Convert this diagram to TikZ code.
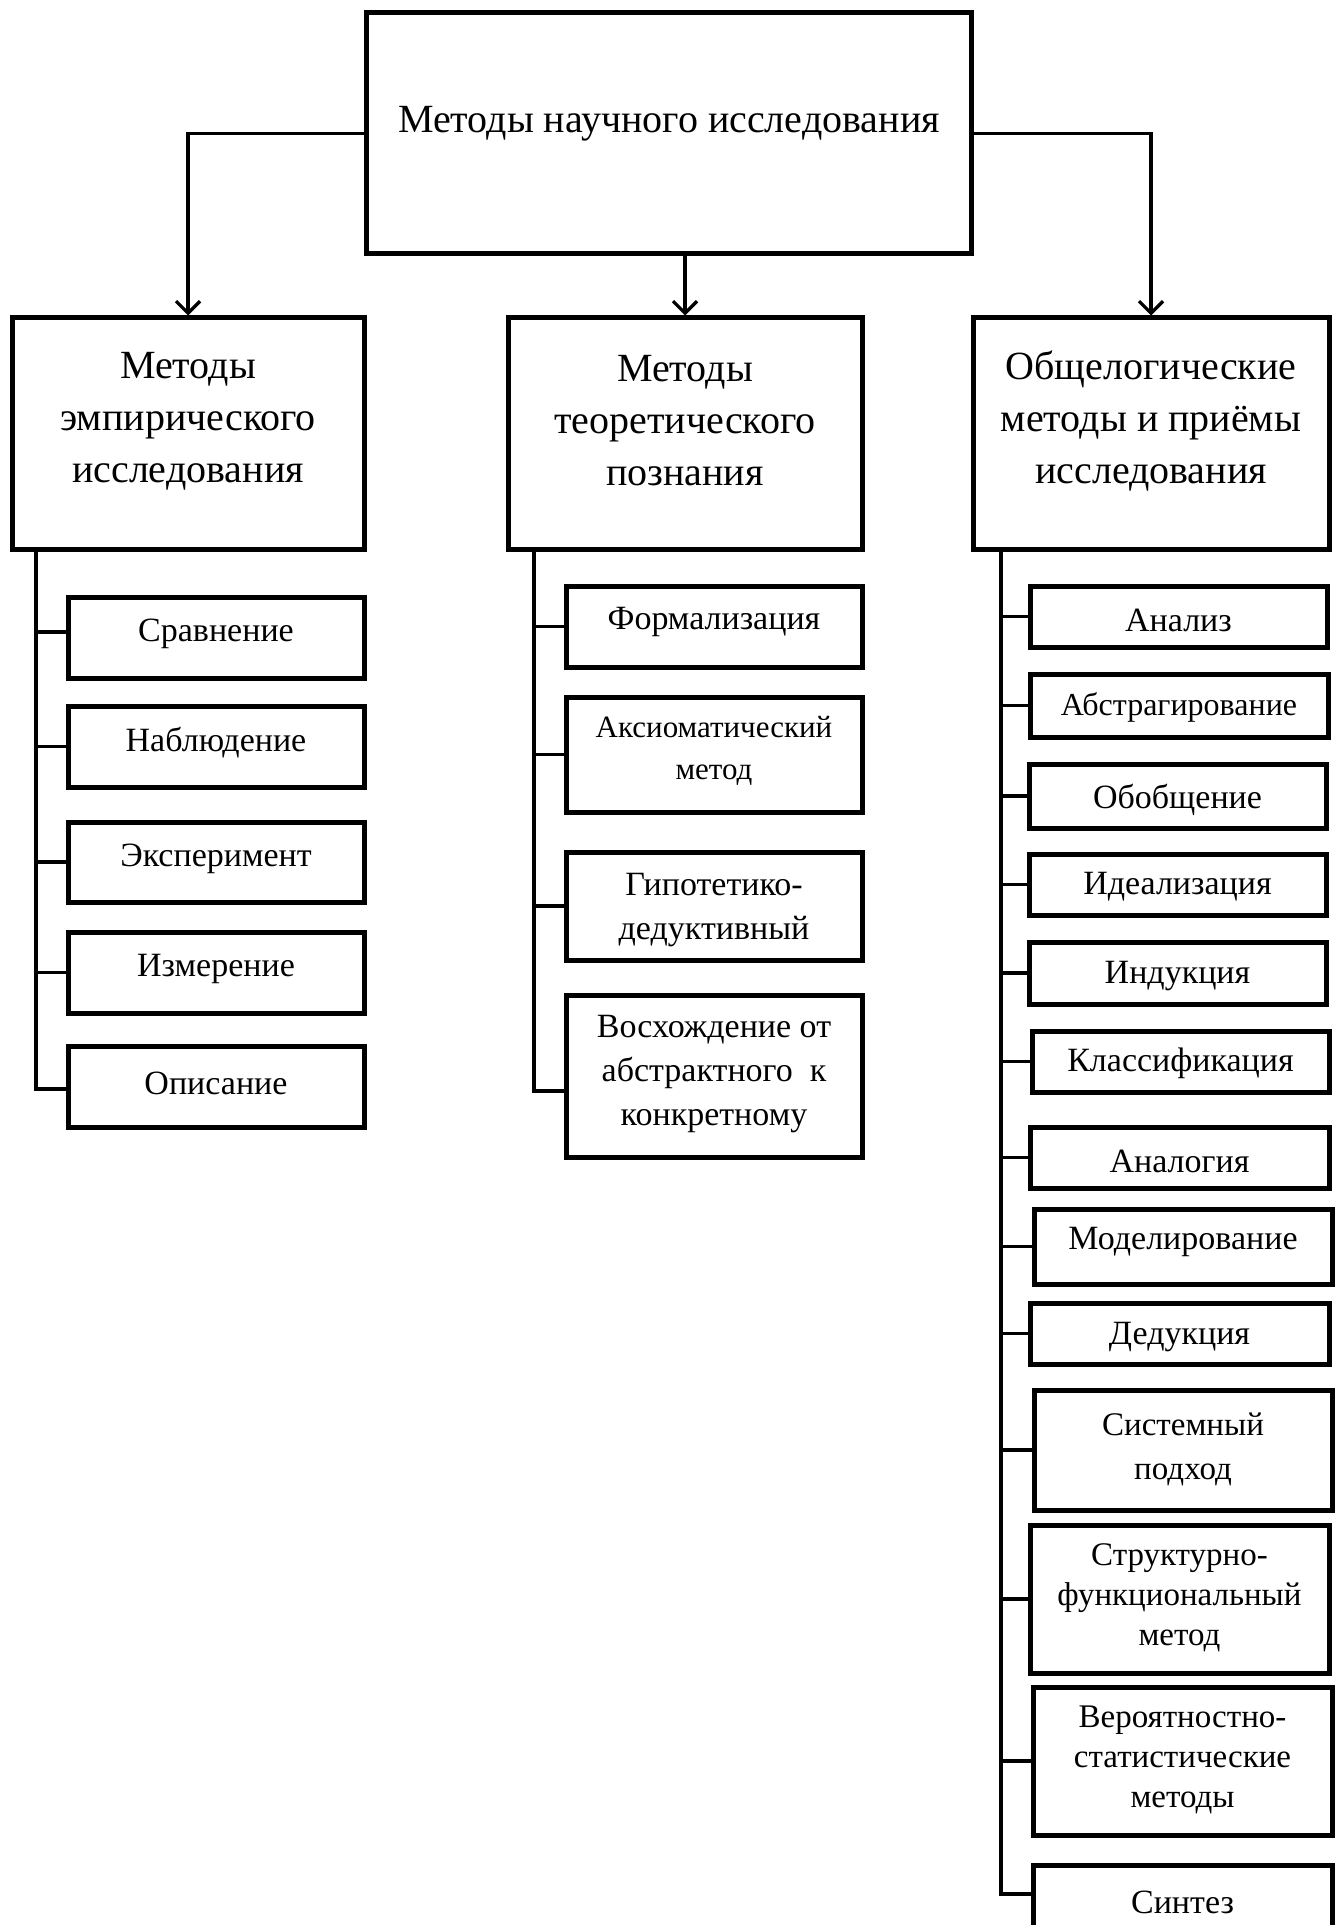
\documentclass[tikz,border=0pt]{standalone}
\usepackage{fontspec}
\setmainfont{Liberation Serif}
\usetikzlibrary{arrows.meta}
\tikzset{
  box/.style={draw, line width=2.5pt, inner sep=0pt, rectangle},
  conn/.style={line width=1.65pt},
  arr/.style={conn, -{Straight Barb[length=6pt,width=12pt,line width=1.65pt]}},
  txt/.style={align=center, inner sep=0pt},
}
\newcommand\fTop{\fontsize{20}{26}\selectfont}
\newcommand\fL{\fontsize{17}{21}\selectfont}
\newcommand\fM{\fontsize{17}{22}\selectfont}
\newcommand\fMs{\fontsize{15.5}{21}\selectfont}
\newcommand\fR{\fontsize{17}{20}\selectfont}
\newcommand\fRs{\fontsize{16.5}{20}\selectfont}
\newcommand\mkbox[8]{%
  \node[box, minimum width={(#4-#2)*0.5pt}, minimum height={(#5-#3)*0.5pt}] (#1) at ({(#2+#4)/2},{(#3+#5)/2}) {};
  \node[txt, font=#7] (#1t) at ({(#2+#4)/2},#6) {#8};
}
\begin{document}
\begin{tikzpicture}[x=0.5pt,y=-0.5pt]
\useasboundingbox (0,0) rectangle (1335,1925);
% top
\node[box, minimum width={(971-366)*0.5pt}, minimum height={(254-13)*0.5pt}] (top) at (668.5,133.5) {};
\node[txt, font=\fTop] (topt) at (669,124) {Методы научного исследования};
% level 2
\mkbox{L}{12}{318}{364}{549}{421}{\fTop}{Методы\\эмпирического\\исследования}
\mkbox{M}{508}{318}{862}{549}{421}{\fTop}{Методы\\теоретического\\познания}
\mkbox{R}{973}{318}{1329}{549}{421}{\fTop}{Общелогические\\методы и приёмы\\исследования}
\draw[arr] (top.west) -| (L.north);
\draw[arr] (M.north |- top.south) -- (M.north);
\draw[arr] (top.east) -| (R.north);
% left column
\mkbox{L1}{68}{597}{364}{678}{634}{\fL}{Сравнение}
\mkbox{L2}{68}{706}{364}{787}{743}{\fL}{Наблюдение}
\mkbox{L3}{68}{822}{364}{902}{859}{\fL}{Эксперимент}
\mkbox{L4}{68}{932}{364}{1013}{969}{\fL}{Измерение}
\mkbox{L5}{68}{1046}{364}{1127}{1083}{\fL}{Описание}
\coordinate (Lx) at (36,0);
\coordinate (L1b) at (36,632);
\coordinate (Lend) at (36,1089);
\draw[conn] (L.south -| Lx) -- (Lend) -- (L5.west |- Lend);
\draw[conn] (L1b) -- (L1.west |- L1b);
\foreach \n in {L2,L3,L4} \draw[conn] (\n.west) -- (\n.west -| Lx);
% middle column
\mkbox{M1}{566}{586}{862}{667}{622}{\fM}{Формализация}
\mkbox{M2}{566}{697}{862}{812}{751}{\fMs}{Аксиоматический\\метод}
\mkbox{M3}{566}{852}{862}{960}{910}{\fM}{Гипотетико-\\дедуктивный}
\mkbox{M4}{566}{995}{862}{1157}{1074}{\fM}{Восхождение от\\абстрактного\ \ к\\конкретному}
\coordinate (Mx) at (534,0);
\coordinate (Mend) at (534,1091);
\draw[conn] (M.south -| Mx) -- (Mend) -- (M4.west |- Mend);
\foreach \n in {M1,M2,M3} \draw[conn] (\n.west) -- (\n.west -| Mx);
% right column
\mkbox{R1}{1030}{586}{1327}{647}{620}{\fR}{Анализ}
\mkbox{R2}{1030}{674}{1328}{737}{707}{\fontsize{16}{20}\selectfont}{Абстрагирование}
\mkbox{R3}{1029}{764}{1326}{828}{800}{\fR}{Обобщение}
\mkbox{R4}{1029}{854}{1326}{915}{887}{\fR}{Идеализация}
\mkbox{R5}{1029}{942}{1326}{1004}{976}{\fR}{Индукция}
\mkbox{R6}{1032}{1031}{1329}{1092}{1063}{\fR}{Классификация}
\mkbox{R7}{1030}{1127}{1329}{1188}{1161}{\fR}{Аналогия}
\mkbox{R8}{1034}{1209}{1332}{1284}{1242}{\fR}{Моделирование}
\mkbox{R9}{1030}{1303}{1329}{1364}{1337}{\fR}{Дедукция}
\mkbox{R10}{1034}{1390}{1332}{1510}{1449}{\fontsize{16.5}{22}\selectfont}{Системный\\подход}
\mkbox{R11}{1030}{1525}{1329}{1673}{1598}{\fRs}{Структурно-\\функциональный\\метод}
\mkbox{R12}{1033}{1687}{1332}{1835}{1760}{\fRs}{Вероятностно-\\статистические\\методы}
\mkbox{R13}{1033}{1865}{1332}{1960}{1902}{\fR}{Синтез}
\coordinate (Rx) at (1001,0);
\coordinate (Rend) at (1001,1894);
\draw[conn] (R.south -| Rx) -- (Rend) -- (R13.west |- Rend);
\foreach \n in {R1,R2,R3,R4,R5,R6,R7,R8,R9,R10,R11,R12} \draw[conn] (\n.west) -- (\n.west -| Rx);
\end{tikzpicture}
\end{document}
